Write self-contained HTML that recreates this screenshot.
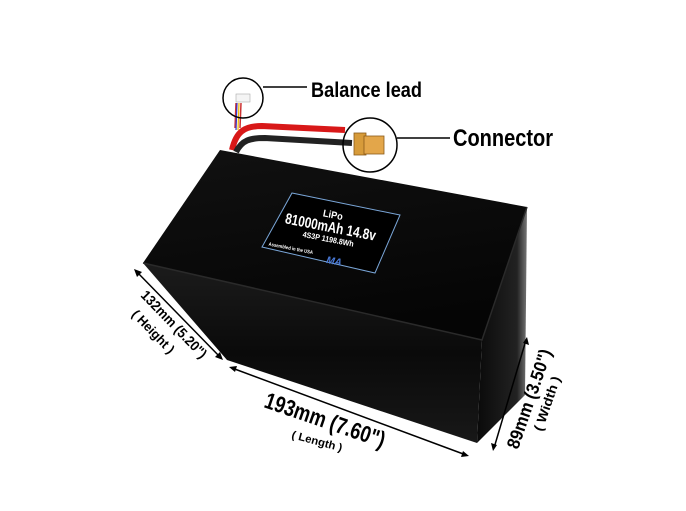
<!DOCTYPE html>
<html><head><style>
html,body{margin:0;padding:0;background:#fff;width:686px;height:511px;overflow:hidden}
svg{display:block}
text{font-family:"Liberation Sans",sans-serif;font-weight:bold}
</style></head><body>
<svg width="686" height="511" viewBox="0 0 686 511" xmlns="http://www.w3.org/2000/svg">
<defs>
<linearGradient id="top" x1="0" y1="0" x2="0.3" y2="1">
<stop offset="0" stop-color="#111"/><stop offset="1" stop-color="#050505"/></linearGradient>
<linearGradient id="front" x1="0" y1="0" x2="0" y2="1">
<stop offset="0" stop-color="#1c1c1c"/><stop offset="0.5" stop-color="#0a0a0a"/><stop offset="1" stop-color="#181818"/></linearGradient>
<linearGradient id="side" x1="0" y1="0" x2="1" y2="0">
<stop offset="0" stop-color="#0a0a0a"/><stop offset="0.8" stop-color="#222"/><stop offset="1" stop-color="#777"/></linearGradient>
</defs>
<path d="M232,150 C236,132 244,126 262,126 L345,130" stroke="#d81818" stroke-width="6" fill="none"/>
<path d="M236,152 C242,140 250,138 265,138 L352,143" stroke="#222" stroke-width="6" fill="none"/>
<path d="M236,103 L235,128 M241,103 L240,128" stroke-width="1.5" fill="none" stroke="#c33"/>
<path d="M237,103 L236,130" stroke="#33c" stroke-width="1.2"/>
<path d="M239,103 L238,130" stroke="#eb0" stroke-width="1.2"/>
<rect x="236" y="94" width="14" height="8" fill="#f4f4f4" stroke="#aaa" stroke-width="0.6"/>
<rect x="354" y="133" width="12" height="22" fill="#d79b3a" stroke="#8a5a1a" stroke-width="0.8"/>
<rect x="364" y="136" width="20" height="18" fill="#e3a64a" stroke="#8a5a1a" stroke-width="0.8"/>
<polygon points="143,263 482,340 477,443 227,360" fill="url(#front)"/>
<polygon points="482,340 527,207 525,395 477,443" fill="url(#side)"/>
<polygon points="220,150 527,207 482,340 143,263" fill="url(#top)"/>
<path d="M143,263 L482,340 L527,207" stroke="#2a2a2a" stroke-width="1.5" fill="none"/>
<polygon points="292,193 400,215 375,273 262,247" fill="#000" stroke="#7aa6d8" stroke-width="1"/>
<g transform="translate(330,230) rotate(11)" fill="#fff" text-anchor="middle">
<text x="0" y="-12" font-size="10" textLength="20" lengthAdjust="spacingAndGlyphs">LiPo</text>
<text x="0" y="2" font-size="15" textLength="92" lengthAdjust="spacingAndGlyphs">81000mAh 14.8v</text>
<text x="0" y="12" font-size="8" textLength="52" lengthAdjust="spacingAndGlyphs">4S3P 1198.8Wh</text>
<text x="-35" y="27" font-size="5" textLength="45" lengthAdjust="spacingAndGlyphs">Assembled in the USA</text>
<text x="10" y="33" font-size="10" fill="#4a7ad8" font-style="italic">MA</text>
</g>
<circle cx="243" cy="98" r="20" fill="none" stroke="#000" stroke-width="1.5"/>
<line x1="263" y1="87" x2="307" y2="87" stroke="#000" stroke-width="1.5"/>
<text x="311" y="97" font-size="21" fill="#000" textLength="111" lengthAdjust="spacingAndGlyphs">Balance lead</text>
<circle cx="370" cy="145" r="27" fill="none" stroke="#000" stroke-width="1.5"/>
<line x1="397" y1="138" x2="450" y2="138" stroke="#000" stroke-width="1.5"/>
<text x="453" y="146" font-size="24" fill="#000" textLength="100" lengthAdjust="spacingAndGlyphs">Connector</text>
<g stroke="#000" stroke-width="1.5">
<line x1="136" y1="271" x2="221" y2="358"/>
<line x1="232" y1="368" x2="466" y2="455"/>
<line x1="526" y1="340" x2="494" y2="448"/>
</g>
<g fill="#000">
<polygon points="134,269 142,272 137,277"/>
<polygon points="223,360 215,357 220,352"/>
<polygon points="229,367 237,366 235,372"/>
<polygon points="469,456 461,457 463,451"/>
<polygon points="527,337 529,345 523,343"/>
<polygon points="493,451 491,443 497,445"/>
</g>
<text transform="translate(140,296) rotate(46)" font-size="14" fill="#000" textLength="88" lengthAdjust="spacingAndGlyphs">132mm (5.20")</text>
<text transform="translate(131,315) rotate(46)" font-size="13" fill="#000" textLength="55" lengthAdjust="spacingAndGlyphs">( Height )</text>
<text transform="translate(263,407) rotate(19)" font-size="23" fill="#000" textLength="126" lengthAdjust="spacingAndGlyphs">193mm (7.60")</text>
<text transform="translate(291,438) rotate(15)" font-size="11" fill="#000" textLength="52" lengthAdjust="spacingAndGlyphs">( Length )</text>
<text transform="translate(518,450) rotate(-71)" font-size="18" fill="#000" textLength="104" lengthAdjust="spacingAndGlyphs">89mm (3.50")</text>
<text transform="translate(542,432) rotate(-71)" font-size="13" fill="#000" textLength="57" lengthAdjust="spacingAndGlyphs">( Width )</text>
</svg>
</body></html>
